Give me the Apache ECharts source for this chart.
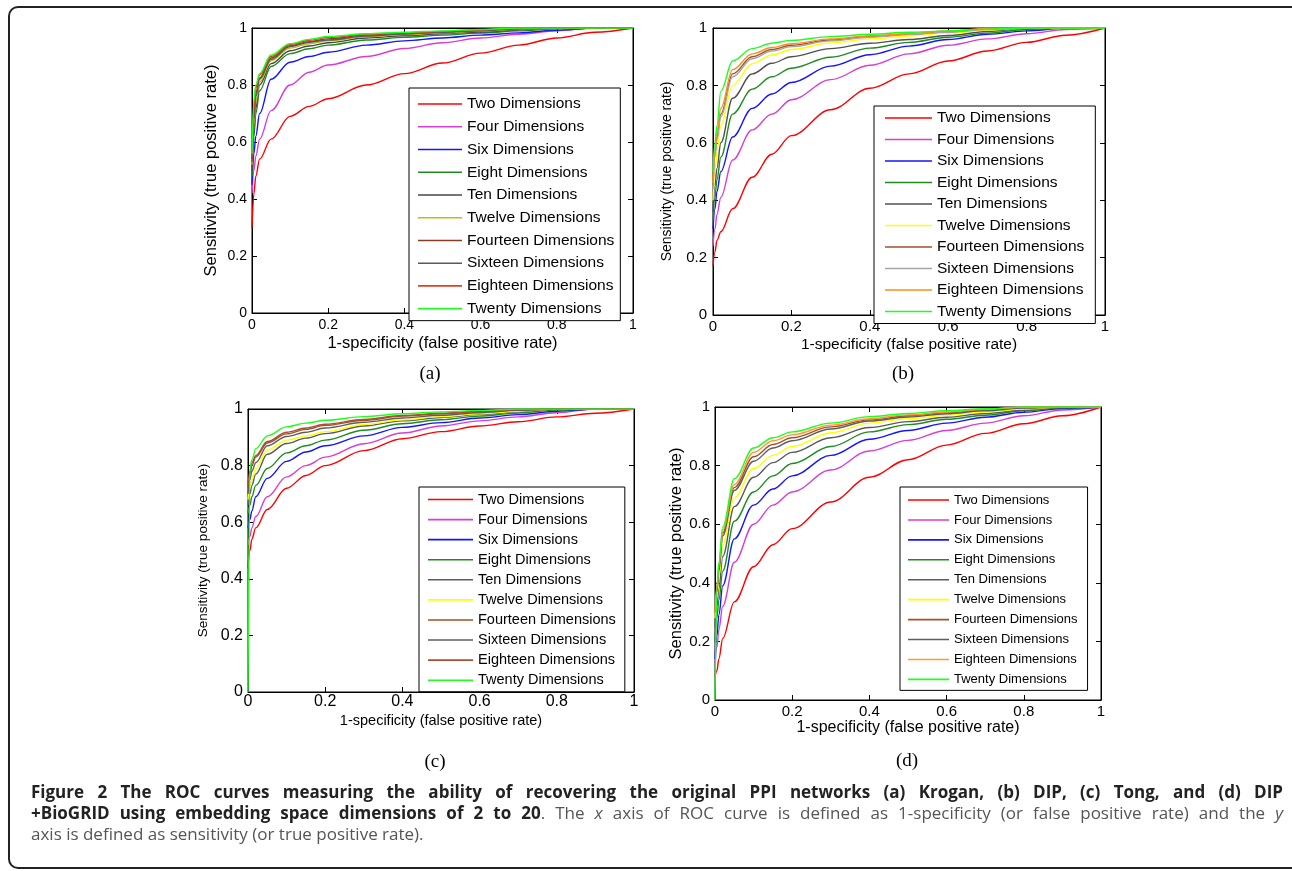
<!DOCTYPE html>
<html>
<head>
<meta charset="utf-8">
<title>ROC curves, embedding dimensions 2 to 20</title>
<script src="https://cdn.jsdelivr.net/npm/echarts@6/dist/echarts.min.js"></script>
<style>
	html, body { margin: 0; padding: 0; background: #fff; }
	#main { position: absolute; left: 0; top: 0; width: 1292px; height: 871px; }
	#caption {
		position: absolute; left: 31px; top: 781px; width: 1252px;
		font-family: "Open Sans", sans-serif; font-size: 17px; line-height: 21px; color: #555;
		white-space: nowrap;
	}
	#caption .j { text-align: justify; text-align-last: justify; }
	#caption b { color: #222; }
</style>
</head>
<body>
<div id="main"></div>
<div id="caption">
	<div class="j"><b>Figure 2 The ROC curves measuring the ability of recovering the original PPI networks (a) Krogan, (b) DIP, (c) Tong, and (d) DIP</b></div>
	<div class="j"><b>+BioGRID using embedding space dimensions of 2 to 20</b>. The <i>x</i> axis of ROC curve is defined as 1-specificity (or false positive rate) and the <i>y</i></div>
	<div>axis is defined as sensitivity (or true positive rate).</div>
</div>
<script>
// x samples (false positive rate) shared by every curve
var fpr = [0, 0.005, 0.01, 0.02, 0.05, 0.1, 0.15, 0.2, 0.3, 0.4, 0.5, 0.6, 0.7, 0.8, 0.9, 1];
var axisTicks = [0, 0.2, 0.4, 0.6, 0.8, 1];
var dimNames = ['Two Dimensions', 'Four Dimensions', 'Six Dimensions', 'Eight Dimensions', 'Ten Dimensions',
	'Twelve Dimensions', 'Fourteen Dimensions', 'Sixteen Dimensions', 'Eighteen Dimensions', 'Twenty Dimensions'];
var xTitle = '1-specificity (false positive rate)';
var yTitle = 'Sensitivity (true positive rate)';
var panelLabels = ['(a)', '(b)', '(c)', '(d)'];

// sensitivity, one row per dimension (2,4,...,20)
// (a) Krogan
var tprKrogan = [
	[0.30, 0.42, 0.48, 0.54, 0.61, 0.69, 0.725, 0.752, 0.80, 0.84, 0.877, 0.912, 0.94, 0.965, 0.985, 1],
	[0.42, 0.50, 0.55, 0.61, 0.71, 0.80, 0.845, 0.87, 0.90, 0.928, 0.948, 0.965, 0.978, 0.99, 1, 1],
	[0.45, 0.56, 0.62, 0.70, 0.82, 0.88, 0.90, 0.915, 0.94, 0.955, 0.965, 0.975, 0.983, 0.992, 1, 1],
	[0.48, 0.62, 0.70, 0.78, 0.865, 0.91, 0.927, 0.94, 0.958, 0.967, 0.975, 0.982, 0.99, 0.997, 1, 1],
	[0.50, 0.64, 0.72, 0.80, 0.875, 0.92, 0.937, 0.948, 0.965, 0.973, 0.98, 0.986, 0.993, 1, 1, 1],
	[0.52, 0.66, 0.74, 0.81, 0.885, 0.93, 0.945, 0.955, 0.97, 0.977, 0.983, 0.989, 0.995, 1, 1, 1],
	[0.54, 0.70, 0.77, 0.825, 0.895, 0.938, 0.952, 0.962, 0.975, 0.981, 0.986, 0.992, 0.998, 1, 1, 1],
	[0.53, 0.68, 0.76, 0.82, 0.89, 0.935, 0.95, 0.958, 0.972, 0.979, 0.985, 0.99, 0.997, 1, 1, 1],
	[0.55, 0.72, 0.79, 0.835, 0.90, 0.942, 0.957, 0.967, 0.978, 0.983, 0.988, 0.994, 1, 1, 1, 1],
	[0.56, 0.75, 0.80, 0.84, 0.905, 0.945, 0.96, 0.97, 0.98, 0.985, 0.99, 0.995, 1, 1, 1, 1]
];
// (b) DIP
var tprDIP = [
	[0.17, 0.22, 0.26, 0.29, 0.37, 0.48, 0.56, 0.625, 0.715, 0.79, 0.84, 0.885, 0.92, 0.95, 0.975, 1],
	[0.24, 0.30, 0.35, 0.41, 0.54, 0.645, 0.70, 0.75, 0.82, 0.87, 0.91, 0.94, 0.962, 0.98, 0.995, 1],
	[0.30, 0.37, 0.43, 0.50, 0.62, 0.72, 0.77, 0.81, 0.867, 0.907, 0.937, 0.96, 0.978, 0.99, 1, 1],
	[0.33, 0.41, 0.47, 0.55, 0.70, 0.787, 0.83, 0.86, 0.898, 0.93, 0.95, 0.968, 0.982, 0.995, 1, 1],
	[0.36, 0.45, 0.51, 0.60, 0.755, 0.84, 0.877, 0.90, 0.928, 0.947, 0.96, 0.974, 0.988, 1, 1, 1],
	[0.40, 0.50, 0.57, 0.66, 0.80, 0.876, 0.906, 0.925, 0.948, 0.962, 0.972, 0.982, 0.993, 1, 1, 1],
	[0.45, 0.56, 0.62, 0.70, 0.84, 0.90, 0.925, 0.94, 0.958, 0.97, 0.978, 0.987, 0.996, 1, 1, 1],
	[0.44, 0.55, 0.61, 0.69, 0.83, 0.893, 0.92, 0.935, 0.955, 0.968, 0.977, 0.986, 0.995, 1, 1, 1],
	[0.46, 0.58, 0.64, 0.72, 0.855, 0.91, 0.932, 0.945, 0.962, 0.973, 0.98, 0.99, 0.998, 1, 1, 1],
	[0.50, 0.60, 0.66, 0.78, 0.885, 0.928, 0.947, 0.957, 0.97, 0.978, 0.985, 0.99, 0.996, 1, 1, 1]
];
// (c) Tong
var tprTong = [
	[0.44, 0.50, 0.54, 0.58, 0.645, 0.72, 0.765, 0.80, 0.853, 0.895, 0.92, 0.94, 0.955, 0.972, 0.985, 1],
	[0.52, 0.55, 0.58, 0.62, 0.69, 0.76, 0.80, 0.83, 0.877, 0.915, 0.94, 0.958, 0.972, 0.987, 1, 1],
	[0.58, 0.61, 0.64, 0.69, 0.755, 0.815, 0.848, 0.87, 0.905, 0.935, 0.952, 0.968, 0.98, 0.992, 1, 1],
	[0.63, 0.66, 0.69, 0.73, 0.79, 0.845, 0.87, 0.89, 0.925, 0.948, 0.962, 0.975, 0.986, 0.996, 1, 1],
	[0.66, 0.70, 0.73, 0.77, 0.84, 0.878, 0.897, 0.913, 0.94, 0.958, 0.97, 0.98, 0.99, 1, 1, 1],
	[0.68, 0.72, 0.75, 0.79, 0.855, 0.89, 0.905, 0.92, 0.945, 0.962, 0.973, 0.983, 0.992, 1, 1, 1],
	[0.72, 0.77, 0.80, 0.83, 0.88, 0.912, 0.928, 0.942, 0.96, 0.975, 0.983, 0.99, 0.997, 1, 1, 1],
	[0.70, 0.75, 0.78, 0.81, 0.87, 0.903, 0.918, 0.933, 0.953, 0.968, 0.978, 0.987, 0.995, 1, 1, 1],
	[0.73, 0.78, 0.81, 0.835, 0.885, 0.918, 0.933, 0.946, 0.963, 0.977, 0.985, 0.992, 0.998, 1, 1, 1],
	[0, 0.79, 0.82, 0.86, 0.905, 0.937, 0.95, 0.96, 0.973, 0.983, 0.99, 0.995, 1, 1, 1, 1]
];
// (d) DIP+BioGRID
var tprDIPBio = [
	[0.08, 0.10, 0.14, 0.21, 0.335, 0.455, 0.53, 0.585, 0.676, 0.76, 0.82, 0.87, 0.91, 0.943, 0.97, 1],
	[0.12, 0.18, 0.24, 0.32, 0.47, 0.60, 0.665, 0.71, 0.785, 0.85, 0.886, 0.92, 0.945, 0.97, 0.99, 1],
	[0.14, 0.22, 0.29, 0.39, 0.55, 0.665, 0.72, 0.765, 0.835, 0.89, 0.92, 0.945, 0.965, 0.982, 0.995, 1],
	[0.20, 0.28, 0.34, 0.44, 0.61, 0.71, 0.765, 0.807, 0.865, 0.915, 0.94, 0.958, 0.972, 0.987, 0.997, 1],
	[0.25, 0.32, 0.38, 0.49, 0.66, 0.76, 0.81, 0.845, 0.895, 0.93, 0.95, 0.965, 0.978, 0.99, 1, 1],
	[0.28, 0.35, 0.42, 0.53, 0.69, 0.79, 0.835, 0.865, 0.912, 0.945, 0.96, 0.972, 0.983, 0.993, 1, 1],
	[0.30, 0.38, 0.45, 0.57, 0.725, 0.83, 0.872, 0.895, 0.932, 0.956, 0.97, 0.98, 0.99, 0.998, 1, 1],
	[0.30, 0.37, 0.44, 0.56, 0.715, 0.815, 0.86, 0.885, 0.925, 0.952, 0.966, 0.977, 0.987, 0.996, 1, 1],
	[0.30, 0.39, 0.46, 0.58, 0.735, 0.845, 0.885, 0.905, 0.938, 0.96, 0.973, 0.983, 0.992, 1, 1, 1],
	[0, 0.38, 0.47, 0.59, 0.755, 0.86, 0.895, 0.915, 0.945, 0.967, 0.978, 0.987, 0.994, 1, 1, 1]
];

// line colours, matlab style, slightly different per panel
var coloursA = ['#ff0000', '#d63ed6', '#1414ff', '#1e8c1e', '#474747', '#bdbd1a', '#8b3c1e', '#5a5a5a', '#e6401a', '#1eff1e'];
var coloursB = ['#ff0000', '#d63ed6', '#1414ff', '#1e8c1e', '#505050', '#ffff00', '#a0522d', '#a6a6a6', '#ff8c1a', '#1eff1e'];
var coloursC = ['#ff0000', '#d63ed6', '#1414ff', '#1e8c1e', '#5a5a5a', '#ffff00', '#a0522d', '#5e5e5e', '#a8502e', '#1eff1e'];
var coloursD = ['#ff0000', '#d63ed6', '#1414ff', '#1e8c1e', '#5a5a5a', '#ffff00', '#a0522d', '#5e5e5e', '#ff9933', '#1eff1e'];

var FONT = '"Liberation Sans", Arial, sans-serif';

// layout of the four sub plots
var panels = [
	{ key: 'a', tpr: tprKrogan, colours: coloursA,
		grid: { left: 252, top: 28, width: 381, height: 285 },
		tick: 14, tickMarginX: 5, tickMarginY: 5, xName: 16.5, xGap: 22, yName: 16.5, yGap: 32,
		legend: { left: 409, top: 88, lineW: 44, gap: 6.74, font: 15.5, pad: [8, 6, 4, 9] },
		label: [430, 374] },
	{ key: 'b', tpr: tprDIP, colours: coloursB,
		grid: { left: 713, top: 28, width: 392, height: 287 },
		tick: 15, tickMarginX: 4, tickMarginY: 6, xName: 15.5, xGap: 22, yName: 14, yGap: 39,
		legend: { left: 874, top: 106, lineW: 47, gap: 5.5, font: 15.5, pad: [4, 11, 4, 11] },
		label: [903, 374] },
	{ key: 'c', tpr: tprTong, colours: coloursC,
		grid: { left: 248, top: 409, width: 386, height: 283 },
		tick: 16, tickMarginX: 2, tickMarginY: 5, xName: 14.5, xGap: 21, yName: 13.5, yGap: 38,
		legend: { left: 419, top: 487, lineW: 45, gap: 5.08, font: 14.5, pad: [5, 9, 4, 9] },
		label: [435, 762] },
	{ key: 'd', tpr: tprDIPBio, colours: coloursD,
		grid: { left: 715, top: 407, width: 386, height: 293 },
		tick: 15, tickMarginX: 4, tickMarginY: 5, xName: 16, xGap: 19, yName: 16.5, yGap: 29,
		legend: { left: 900, top: 487, lineW: 41, gap: 5.93, font: 13, pad: [6, 10, 4, 8] },
		label: [907, 761] }
];

var grids = [], xAxes = [], yAxes = [], legends = [], series = [], graphics = [];

function baseAxis(gi, pos) {
	return {
		gridIndex: gi, type: 'value', position: pos,
		min: axisTicks[0], max: axisTicks[axisTicks.length - 1], interval: axisTicks[1] - axisTicks[0],
		axisLine: { show: true, onZero: false, lineStyle: { color: '#000', width: 1 } },
		axisTick: { show: true, inside: true, length: 5, lineStyle: { color: '#000' } },
		axisLabel: { show: false },
		splitLine: { show: false }
	};
}

panels.forEach(function (p, i) {
	grids.push({ left: p.grid.left, top: p.grid.top, width: p.grid.width, height: p.grid.height,
		show: true, borderColor: '#000', borderWidth: 1, backgroundColor: '#fff' });

	var xb = baseAxis(i, 'bottom');
	xb.axisLabel = { show: true, fontFamily: FONT, fontSize: p.tick, color: '#000', margin: p.tickMarginX };
	xb.name = xTitle; xb.nameLocation = 'middle'; xb.nameGap = p.xGap;
	xb.nameTextStyle = { fontFamily: FONT, fontSize: p.xName, color: '#000' };
	xAxes.push(xb, baseAxis(i, 'top'));

	var yl = baseAxis(i, 'left');
	yl.axisLabel = { show: true, fontFamily: FONT, fontSize: p.tick, color: '#000', margin: p.tickMarginY };
	yl.name = yTitle; yl.nameLocation = 'middle'; yl.nameGap = p.yGap;
	yl.nameTextStyle = { fontFamily: FONT, fontSize: p.yName, color: '#000' };
	yAxes.push(yl, baseAxis(i, 'right'));

	p.tpr.forEach(function (ys, k) {
		series.push({
			type: 'line',
			name: p.key + ':' + dimNames[k],
			xAxisIndex: i * 2, yAxisIndex: i * 2,
			data: fpr.map(function (x, j) { return [x, ys[j]]; }),
			symbol: 'none', showSymbol: false,
			smooth: 0.35, smoothMonotone: 'x',
			clip: true,
			lineStyle: { color: p.colours[k], width: 1.4 },
			itemStyle: { color: p.colours[k] },
			emphasis: { disabled: true }
		});
	});

	// plain line swatch: a thin rect, text keeps the row height
	legends.push({
		data: dimNames.map(function (n) { return p.key + ':' + n; }),
		formatter: function (name) { return name.slice(2); },
		orient: 'vertical',
		left: p.legend.left, top: p.legend.top,
		icon: 'rect',
		itemWidth: p.legend.lineW, itemHeight: 1.6, itemGap: p.legend.gap,
		padding: p.legend.pad,
		borderColor: '#000', borderWidth: 1, backgroundColor: '#fff',
		selectedMode: false,
		textStyle: { fontFamily: FONT, fontSize: p.legend.font, lineHeight: 14, color: '#000' }
	});

	graphics.push({
		type: 'text', x: p.label[0], y: p.label[1], silent: true,
		style: { text: panelLabels[i], fontFamily: '"Liberation Serif", "Times New Roman", serif',
			fontSize: 19, fill: '#000', align: 'center', verticalAlign: 'middle' }
	});
});

// rounded frame round the whole figure
graphics.push({
	type: 'rect', silent: true, z: -1,
	shape: { x: 9, y: 7, width: 1292, height: 861, r: 9 },
	style: { fill: 'none', stroke: '#222', lineWidth: 2 }
});

var myChart = echarts.init(document.getElementById('main'), null, { renderer: 'canvas' });
myChart.setOption({
	animation: false,
	backgroundColor: '#fff',
	grid: grids,
	xAxis: xAxes,
	yAxis: yAxes,
	legend: legends,
	series: series,
	graphic: graphics
});
</script>
</body>
</html>
